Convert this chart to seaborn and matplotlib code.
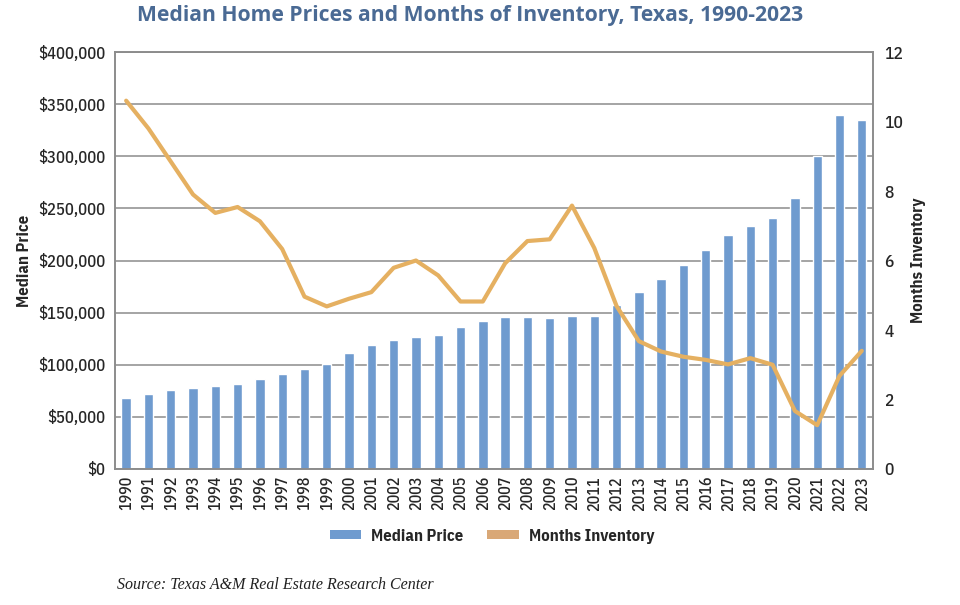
import numpy as np
import pandas as pd
import matplotlib
matplotlib.use("Agg")
import matplotlib.pyplot as plt
import seaborn as sns
from matplotlib.ticker import FuncFormatter
from matplotlib.patches import Patch

# Data
years = [str(y) for y in range(1990, 2024)]
median_price = [68000, 71500, 75500, 78000, 80000, 82000, 86500, 91000, 96000, 101000,
                111500, 118500, 123500, 127000, 129000, 136000, 142000, 146000, 146000, 145000,
                146500, 147000, 157000, 170000, 182500, 195500, 210000, 224000, 233000, 241000,
                259500, 300000, 340000, 335000]
months_inventory = [10.6, 9.8, 8.85, 7.9, 7.37, 7.54, 7.13, 6.33, 4.96, 4.68,
                    4.9, 5.09, 5.79, 6.0, 5.57, 4.82, 4.82, 5.92, 6.56, 6.61,
                    7.58, 6.36, 4.69, 3.68, 3.38, 3.23, 3.14, 3.01, 3.19, 3.0,
                    1.67, 1.26, 2.68, 3.4]

df = pd.DataFrame({"Year": years, "MedianPrice": median_price,
                   "MonthsInventory": months_inventory, "pos": np.arange(len(years))})

sns.set_style("white")
narrow = ["IBM Plex Sans Condensed", "Open Sans", "DejaVu Sans"]
plt.rcParams["font.family"] = narrow
plt.rcParams["font.weight"] = 500

bar_color = "#6f9bcf"
line_color = "#e5b061"
grid_color = "#8c8c8c"

fig = plt.figure(figsize=(9.6, 6.05), dpi=100)
ax = fig.add_axes([0.1198, 0.2248, 0.7895, 0.6892])

sns.barplot(data=df, x="pos", y="MedianPrice", color=bar_color, width=0.42,
            saturation=1, ax=ax, zorder=2)
ax.set_xlim(-0.5, len(years) - 0.5)
ax.set_ylim(0, 400000)
ax.set_yticks(np.arange(0, 400001, 50000))
ax.yaxis.set_major_formatter(FuncFormatter(lambda v, p: "${:,.0f}".format(v)))
ax.set_xticks(np.arange(len(years)))
ax.set_xticklabels(years, rotation=90, fontsize=11.5)
ax.tick_params(axis="y", labelsize=12, length=0, pad=7)
ax.tick_params(axis="x", length=0, pad=5)
ax.grid(axis="y", color=grid_color, linewidth=1.1, zorder=0)
ax.set_axisbelow(True)
ax.set_xlabel("")
ax.set_ylabel("Median Price", fontsize=12, fontweight="bold", labelpad=4)
for s in ["left", "bottom", "right", "top"]:
    ax.spines[s].set_color(grid_color)
    ax.spines[s].set_linewidth(1.2)

ax2 = ax.twinx()
sns.lineplot(data=df, x="pos", y="MonthsInventory", color=line_color, linewidth=3,
             ax=ax2, zorder=3)
ax2.set_ylim(0, 12)
ax2.set_yticks(np.arange(0, 13, 2))
ax2.tick_params(axis="y", labelsize=12.5, length=0, pad=8)
ax2.set_ylabel("Months Inventory", fontsize=12, fontweight="bold", labelpad=6)
ax2.set_xlim(-0.5, len(years) - 0.5)
for s in ["left", "bottom", "right", "top"]:
    ax2.spines[s].set_color(grid_color)
    ax2.spines[s].set_linewidth(1.2)

fig.text(0.49, 0.974, "Median Home Prices and Months of Inventory, Texas, 1990-2023",
         ha="center", va="center", fontsize=15.2, fontweight="bold", color="#4a6a94",
         family=["Open Sans", "DejaVu Sans"])

handles = [Patch(facecolor=bar_color, edgecolor="none"),
           Patch(facecolor="#d9a877", edgecolor="none")]
fig.legend(handles, ["Median Price", "Months Inventory"], loc="center",
           bbox_to_anchor=(0.5125, 0.114), ncol=2, frameon=False,
           prop={"weight": "bold", "size": 12}, handlelength=1.9, handleheight=0.45,
           handletextpad=0.6, columnspacing=1.4)

fig.text(0.122, 0.033, "Source: Texas A&M Real Estate Research Center",
         ha="left", va="center", fontsize=11.5, style="italic",
         family=["Liberation Serif", "DejaVu Serif"], color="#222222")

fig.savefig("out.png", dpi=100)
